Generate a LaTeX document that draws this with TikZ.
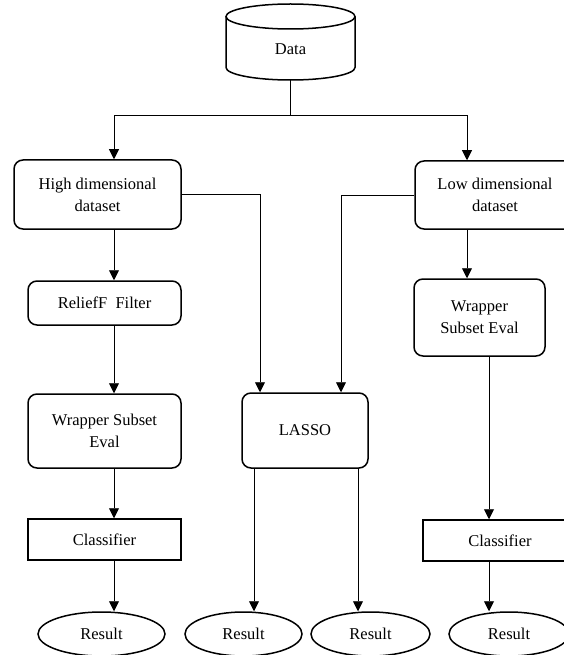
\documentclass[tikz,border=0pt]{standalone}
\usepackage{fontspec}
\setmainfont{Liberation Serif}
\usetikzlibrary{positioning,calc,arrows.meta,shapes.geometric}
\tikzset{font=\fontsize{16.5}{22}\selectfont}

\begin{document}
\begin{tikzpicture}[x=1pt, y=-1pt,
	box/.style={draw, line width=1.5pt, rounded corners=9pt, align=center, inner sep=1pt},
	plainbox/.style={draw, line width=1.5pt, align=center, inner sep=1pt},
	res/.style={draw, ellipse, line width=1.5pt, inner sep=1pt, minimum height=44pt},
	arr/.style={-{Triangle[length=10pt,width=10pt]}, line width=0.9pt},
	link/.style={line width=0.9pt}]
	\clip (0,0) rectangle (564,655);
	\begin{scope}
		% top
		\node[minimum width=129pt, minimum height=62pt] (data) at (290.5, 49) {Data};
		\draw[line width=1.5pt] ($(data.center)+(0,-32.5)$) ellipse [x radius=64.5pt, y radius=12.5pt];
		\draw[line width=1.5pt] ($(data.center)+(-64.5,-32.5)$) -- ($(data.center)+(-64.5,18.5)$)
			arc[start angle=180, end angle=360, x radius=64.5pt, y radius=12.5pt] -- ($(data.center)+(64.5,-32.5)$);
		\node[box, minimum width=167pt, minimum height=69pt] (high) at (97.5, 194.5) {High dimensional\\dataset};
		\node[box, minimum width=160pt, minimum height=68pt] (low) at (495, 195) {Low dimensional\\dataset};

		% left column
		\node[box, minimum width=153pt, minimum height=44pt] (relief) at (104.5, 303) {ReliefF\ \ Filter};
		\node[box, minimum width=153pt, minimum height=74pt] (wrapL) at (104.5, 431) {Wrapper Subset\\Eval};
		\node[plainbox, minimum width=153pt, minimum height=41pt] (classL) at (104.5, 539.5) {Classifier};
		\node[res, minimum width=127pt] (resL) at (101.5, 634) {Result};

		% middle
		\node[box, minimum width=126pt, minimum height=75pt] (lasso) at (305, 430.5) {LASSO};
		\node[res, minimum width=117pt] (resM1) at (243.5, 634) {Result};
		\node[res, minimum width=119pt] (resM2) at (370.5, 634) {Result};

		% right column
		\node[box, minimum width=131pt, minimum height=77pt] (wrapR) at (479.5, 317.5) {Wrapper\\Subset Eval};
		\node[plainbox, minimum width=154pt, minimum height=41pt] (classR) at (500, 540.5) {Classifier};
		\node[res, minimum width=120pt] (resR) at (509, 634) {Result};

		\coordinate (split) at (290.5, 115);
		\coordinate (colA) at (114, 0);
		\coordinate (colB) at (467, 0);
		\coordinate (colC) at (260, 0);
		\coordinate (colD) at (341, 0);
		\coordinate (colE) at (254, 0);
		\coordinate (colF) at (358, 0);
		\coordinate (colG) at (489, 0);

		\draw[link] (data.south) -- (split);
		\draw[arr] (split) -| (high.north -| colA);
		\draw[arr] (split) -| (low.north -| colB);
		\draw[arr] (high.south -| colA) -- (relief.north -| colA);
		\draw[arr] (relief.south -| colA) -- (wrapL.north -| colA);
		\draw[arr] (wrapL.south -| colA) -- (classL.north -| colA);
		\draw[arr] (classL.south -| colA) -- (resL.north -| colA);
		\draw[arr] (high.east) -| (lasso.north -| colC);
		\draw[arr] (low.west) -| (lasso.north -| colD);
		\draw[arr] (lasso.south -| colE) -- (resM1.north -| colE);
		\draw[arr] (lasso.south -| colF) -- (resM2.north -| colF);
		\draw[arr] (low.south -| colB) -- (wrapR.north -| colB);
		\draw[arr] (wrapR.south -| colG) -- (classR.north -| colG);
		\draw[arr] (classR.south -| colG) -- (resR.north -| colG);
	\end{scope}
\end{tikzpicture}
\end{document}
